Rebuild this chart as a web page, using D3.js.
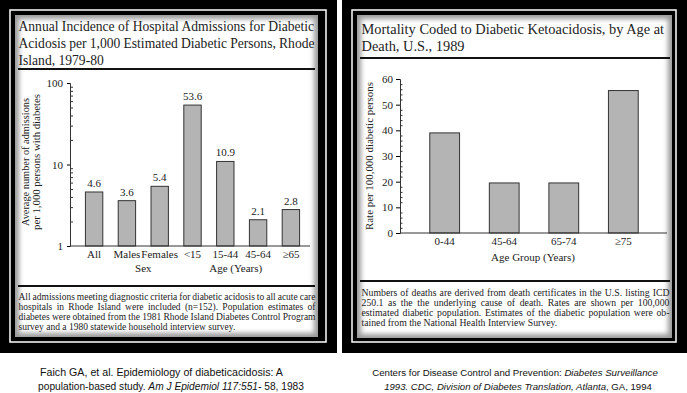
<!DOCTYPE html>
<html>
<head>
<meta charset="utf-8">
<script src="https://cdn.jsdelivr.net/npm/d3@7"></script>
<style>
  body { margin: 0; background: #fff; }
  svg { display: block; }
  .serif { font-family: "Liberation Serif", "DejaVu Serif", serif; fill: #222; }
  .cap { font-family: "Liberation Sans", Arial, sans-serif; fill: #111; }
</style>
</head>
<body>
<div id="chart"></div>
<script>
// left chart data (log scale)
const leftCats = ['All', 'Males', 'Females', '<15', '15-44', '45-64', '\u226565'];
const leftVals = [4.6, 3.6, 5.4, 53.6, 10.9, 2.1, 2.8];
const leftTicks = [1, 10, 100];

// right chart data
const rightCats = ['0-44', '45-64', '65-74', '\u226575'];
const rightVals = [39, 19.5, 19.5, 55.5];
const rightTicks = [0, 10, 20, 30, 40, 50, 60];

const leftTitle = [
  'Annual Incidence of Hospital Admissions for Diabetic',
  'Acidosis per 1,000 Estimated Diabetic Persons, Rhode',
  'Island, 1979-80'
];
const leftNote = [
  'All admissions meeting diagnostic criteria for diabetic acidosis to all acute care',
  'hospitals in Rhode Island were included (n=152). Population estimates of',
  'diabetes were obtained from the 1981 Rhode Island Diabetes Control Program',
  'survey and a 1980 statewide household interview survey.'
];
const rightTitle = [
  'Mortality Coded to Diabetic Ketoacidosis, by Age at',
  'Death, U.S., 1989'
];
const rightNote = [
  'Numbers of deaths are derived from death certificates in the U.S. listing ICD',
  '250.1 as the the underlying cause of death. Rates are shown per 100,000',
  'estimated diabetic population. Estimates of the diabetic population were ob-',
  'tained from the National Health Interview Survey.'
];

const width = 687, height = 393;
const svg = d3.select('#chart').append('svg')
  .attr('width', width).attr('height', height);

const defs = svg.append('defs');
defs.append('filter').attr('id', 'soft')
  .attr('x', '-5%').attr('y', '-5%').attr('width', '110%').attr('height', '110%')
  .append('feGaussianBlur').attr('stdDeviation', 2.5);

// black frame + white line + shaded paper
function frame(x, y, w, h, cx, cy, cw, ch) {
  svg.append('rect').attr('x', x).attr('y', y).attr('width', w).attr('height', h).attr('fill', '#000');
  svg.append('rect').attr('x', x + 10).attr('y', y + 10).attr('width', w - 21).attr('height', h - 21)
    .attr('fill', 'none').attr('stroke', '#fff').attr('stroke-width', 1.5);
  svg.append('rect').attr('x', cx).attr('y', cy).attr('width', cw).attr('height', ch).attr('fill', '#9a9a9a');
  const clip = 'c' + cx;
  defs.append('clipPath').attr('id', clip).append('rect')
    .attr('x', cx).attr('y', cy).attr('width', cw).attr('height', ch);
  svg.append('g').attr('clip-path', `url(#${clip})`)
    .append('rect').attr('x', cx + 4).attr('y', cy + 4).attr('width', cw - 8).attr('height', ch - 8)
    .attr('fill', '#fff').attr('filter', 'url(#soft)');
}

frame(0, 0, 337, 353, 15, 15, 303, 322);
frame(342, 0, 345, 353, 357, 15, 315, 323);

function line(g, txt, x, y, size) {
  return g.append('text').attr('class', 'serif').attr('x', x).attr('y', y)
    .style('font-size', size + 'px').text(txt);
}

// a paragraph: font size found from the line `ref` (its width known),
// full lines justified with word-spacing
function para(g, lines, x, y0, lh, full, refIdx, refW, justify) {
  const ts = lines.map((s, i) => line(g, s, x, y0 + i * lh, 10));
  const w0 = ts[refIdx].node().getComputedTextLength();
  const size = 10 * refW / w0;
  ts.forEach(t => t.style('font-size', size + 'px'));
  justify.forEach(i => {
    const t = ts[i];
    const w = t.node().getComputedTextLength();
    const n = (lines[i].match(/ /g) || []).length;
    if (n) t.style('word-spacing', ((full - w) / n) + 'px');
  });
  return ts;
}

// ---- left panel ----
const L = svg.append('g');
para(L, leftTitle, 18.5, 31, 17, 296, 0, 296, [1]);
L.append('line').attr('x1', 18).attr('x2', 315).attr('y1', 69).attr('y2', 69)
  .attr('stroke', '#111').attr('stroke-width', 2.2);
L.append('line').attr('x1', 18).attr('x2', 315).attr('y1', 286).attr('y2', 286)
  .attr('stroke', '#111').attr('stroke-width', 2.2);
para(L, leftNote, 18.5, 299.5, 10.2, 297, 3, 217, [0, 1, 2]);

const xL = d3.scaleBand().domain(leftCats).range([70, 315]).padding(0.47);
const yL = d3.scaleLog().domain([1, 100]).range([246, 83]);

L.selectAll('.barL').data(leftVals).enter().append('rect')
  .attr('x', (d, i) => xL(leftCats[i]))
  .attr('y', d => yL(d))
  .attr('width', xL.bandwidth())
  .attr('height', d => yL(1) - yL(d))
  .attr('fill', '#b4b4b4').attr('stroke', '#333').attr('stroke-width', 1);

L.selectAll('.valL').data(leftVals).enter().append('text')
  .attr('class', 'serif')
  .attr('x', (d, i) => xL(leftCats[i]) + xL.bandwidth() / 2)
  .attr('y', d => yL(d) - 5)
  .attr('text-anchor', 'middle').style('font-size', '11px')
  .text(d => d.toFixed(1));

// y axis (log)
const minorL = [];
[1, 10].forEach(b => { for (let k = 2; k <= 9; k++) minorL.push(b * k); });
L.append('g').attr('transform', 'translate(70,0)')
  .call(d3.axisRight(yL).tickValues(minorL).tickSize(3).tickFormat(''))
  .call(g => g.select('.domain').remove())
  .selectAll('line').attr('stroke', '#333');
L.append('g').attr('transform', 'translate(70,0)')
  .call(d3.axisLeft(yL).tickValues(leftTicks).tickSize(3).tickPadding(4).tickFormat(d3.format('d')))
  .call(g => g.select('.domain').attr('stroke', '#333'))
  .call(g => g.selectAll('text').attr('class', 'serif').style('font-size', '11px').attr('fill', '#222'));

// x axis
L.append('g').attr('transform', 'translate(0,246)')
  .call(d3.axisBottom(xL).tickSize(0).tickPadding(4))
  .call(g => g.select('.domain').attr('stroke', '#333').attr('d', 'M70,0H310'))
  .call(g => g.selectAll('text').attr('class', 'serif').style('font-size', '11px').attr('fill', '#222'));

line(L, 'Sex', (xL('Males') + xL('Females')) / 2 + xL.bandwidth() / 2, 272, 11).attr('text-anchor', 'middle');
line(L, 'Age (Years)', (xL('15-44') + xL('45-64')) / 2 + xL.bandwidth() / 2 - 6, 272, 11).attr('text-anchor', 'middle');

const yTitleL = L.append('g').attr('transform', 'translate(0,162) rotate(-90)');
line(yTitleL, 'Average number of admissions', 0, 29, 11).attr('text-anchor', 'middle')
  .attr('textLength', 128).attr('lengthAdjust', 'spacingAndGlyphs');
line(yTitleL, 'per 1,000 persons with diabetes', 0, 40, 11).attr('text-anchor', 'middle')
  .attr('textLength', 136).attr('lengthAdjust', 'spacingAndGlyphs');

// ---- right panel ----
const R = svg.append('g');
para(R, rightTitle, 361.5, 33.5, 17.5, 303, 0, 303, []);
R.append('line').attr('x1', 360).attr('x2', 670).attr('y1', 58).attr('y2', 58)
  .attr('stroke', '#111').attr('stroke-width', 2.2);
R.append('line').attr('x1', 360).attr('x2', 670).attr('y1', 281).attr('y2', 281)
  .attr('stroke', '#111').attr('stroke-width', 2.2);
para(R, rightNote, 361.5, 295.5, 10.2, 308, 0, 300, [0, 1, 2]);

const xR = d3.scaleBand().domain(rightCats).range([400, 668]).padding(0.5);
const yR = d3.scaleLinear().domain([0, 60]).range([233, 79]);

R.selectAll('.barR').data(rightVals).enter().append('rect')
  .attr('x', (d, i) => xR(rightCats[i]))
  .attr('y', d => yR(d))
  .attr('width', xR.bandwidth())
  .attr('height', d => yR(0) - yR(d))
  .attr('fill', '#b4b4b4').attr('stroke', '#333').attr('stroke-width', 1);

R.append('g').attr('transform', 'translate(400,0)')
  .call(d3.axisRight(yR).tickValues(d3.range(2, 60, 2).filter(v => v % 10)).tickSize(2.5).tickFormat(''))
  .call(g => g.select('.domain').remove())
  .selectAll('line').attr('stroke', '#333');
R.append('g').attr('transform', 'translate(400,0)')
  .call(d3.axisLeft(yR).tickValues(rightTicks).tickSize(4).tickPadding(3))
  .call(g => g.select('.domain').attr('stroke', '#333'))
  .call(g => g.selectAll('text').attr('class', 'serif').style('font-size', '11px').attr('fill', '#222'));

R.append('g').attr('transform', 'translate(0,233)')
  .call(d3.axisBottom(xR).tickSize(0).tickPadding(4))
  .call(g => g.select('.domain').attr('stroke', '#333').attr('d', 'M400,0H667'))
  .call(g => g.selectAll('text').attr('class', 'serif').style('font-size', '11px').attr('fill', '#222'));

line(R, 'Age Group (Years)', 533, 261, 11).attr('text-anchor', 'middle');
const yTitleR = R.append('g').attr('transform', 'translate(0,156) rotate(-90)');
line(yTitleR, 'Rate per 100,000 diabetic persons', 0, 373, 11).attr('text-anchor', 'middle')
  .attr('textLength', 148).attr('lengthAdjust', 'spacingAndGlyphs');

// ---- captions: font size fitted to the line width ----
function caption(x, y, parts, len) {
  const t = svg.append('text').attr('class', 'cap').attr('x', x).attr('y', y)
    .attr('text-anchor', 'middle').style('font-size', '11px');
  parts.forEach(p => t.append('tspan').style('font-style', p[1] ? 'italic' : 'normal').text(p[0]));
  const w = t.node().getComputedTextLength();
  t.style('font-size', Math.min(12, 11 * len / w) + 'px');
}
caption(161.5, 376, [['Faich GA, et al. Epidemiology of diabeticacidosis: A', 0]], 243);
caption(171, 390, [['population-based study. ', 0], ['Am J Epidemiol 117:551-', 1], [' 58, 1983', 0]], 266);
caption(515, 376, [['Centers for Disease Control and Prevention: ', 0], ['Diabetes Surveillance', 1]], 286);
caption(518, 390, [['1993. CDC, Division of Diabetes Translation, Atlanta', 1], [', GA, 1994', 0]], 268);
</script>
</body>
</html>
